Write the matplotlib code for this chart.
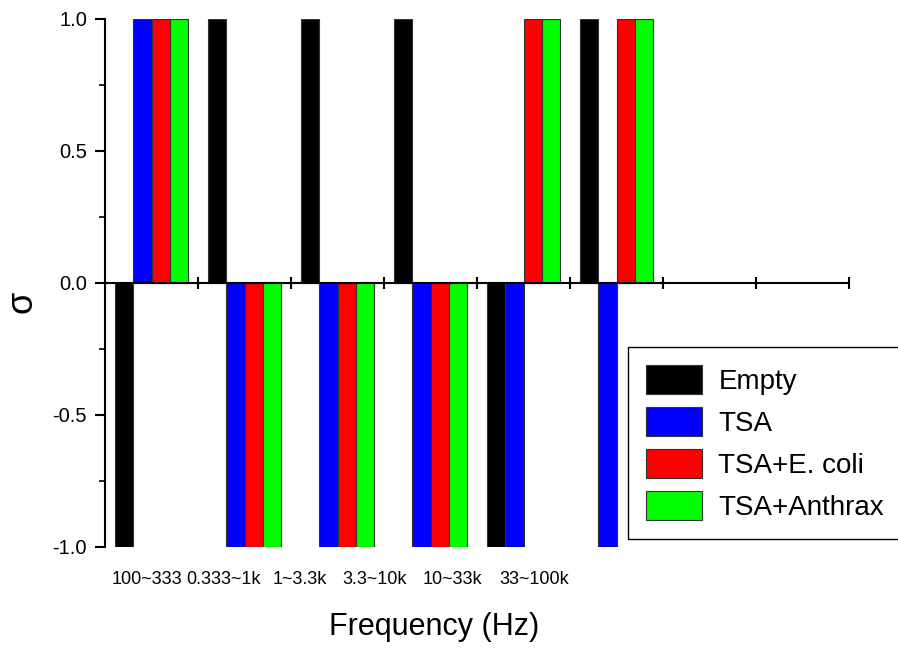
import numpy as np
import matplotlib
matplotlib.use("Agg")
from matplotlib import pyplot as plt
from matplotlib.ticker import MultipleLocator, NullFormatter

plt.rcParams['font.family'] = ['Liberation Sans', 'DejaVu Sans']

# data
bands = ["100~333", "0.333~1k", "1~3.3k", "3.3~10k", "10~33k", "33~100k"]
band_label_x = [0.45, 1.27, 2.10, 2.90, 3.74, 4.62]
series_names = ["Empty", "TSA", "TSA+E. coli", "TSA+Anthrax"]
empty = [-1, 1, 1, 1, -1, 1]
tsa = [1, -1, -1, -1, -1, -1]
tsa_ecoli = [1, -1, -1, -1, 1, 1]
tsa_anthrax = [1, -1, -1, -1, 1, 1]
colors = ["#000000", "#0000ff", "#ff0000", "#00ff00"]

fig = plt.figure(figsize=(8.98, 6.52), dpi=100)
ax = fig.add_axes([105 / 898, 1 - 547 / 652, 744 / 898, 528 / 652])

x = np.arange(len(bands)) + 0.5
width = 0.195
offsets = [-1.5 * width, -0.5 * width, 0.5 * width, 1.5 * width]
for vals, name, col, off in zip([empty, tsa, tsa_ecoli, tsa_anthrax], series_names, colors, offsets):
    ax.bar(x + off, vals, width=width, color=col, edgecolor="#333333", linewidth=0.8, label=name, zorder=2)

ax.set_xlim(0, 8)
ax.set_ylim(-1, 1)

ax.spines['top'].set_visible(False)
ax.spines['right'].set_visible(False)
ax.spines['bottom'].set_position(('data', 0))
ax.spines['bottom'].set_zorder(3)
for s in ['left', 'bottom']:
    ax.spines[s].set_linewidth(1.5)

ax.set_xticks(np.arange(1, 9))
ax.xaxis.set_major_formatter(NullFormatter())
ax.tick_params(axis='x', which='major', direction='inout', length=9, width=1.5)

ax.yaxis.set_minor_locator(MultipleLocator(0.25))
ax.set_yticks([-1.0, -0.5, 0.0, 0.5, 1.0])
ax.set_yticklabels(["-1.0", "-0.5", "0.0", "0.5", "1.0"])
ax.tick_params(axis='y', which='major', direction='out', length=7, width=1.5, labelsize=14.5, pad=6)
ax.tick_params(axis='y', which='minor', direction='out', length=4, width=1.2)

for lx, lab in zip(band_label_x, bands):
    ax.text(lx, -1.122, lab, ha='center', va='center', fontsize=13, clip_on=False)

fig.text(22 / 898, 1 - 302 / 652, "σ", rotation=90, ha='center', va='center', fontsize=26)
fig.text(434 / 898, 1 - 627 / 652, "Frequency (Hz)", ha='center', va='center', fontsize=22)

leg = fig.legend(loc='upper left', bbox_to_anchor=(628 / 898, 1 - 347 / 652), fontsize=20,
                 handlelength=2.0, handleheight=1.2, handletextpad=0.6, labelspacing=0.45,
                 borderpad=0.65, borderaxespad=0, frameon=True, fancybox=False,
                 edgecolor='black', framealpha=1)
leg.get_frame().set_linewidth(1.0)

fig.savefig("out.png", dpi=100)
